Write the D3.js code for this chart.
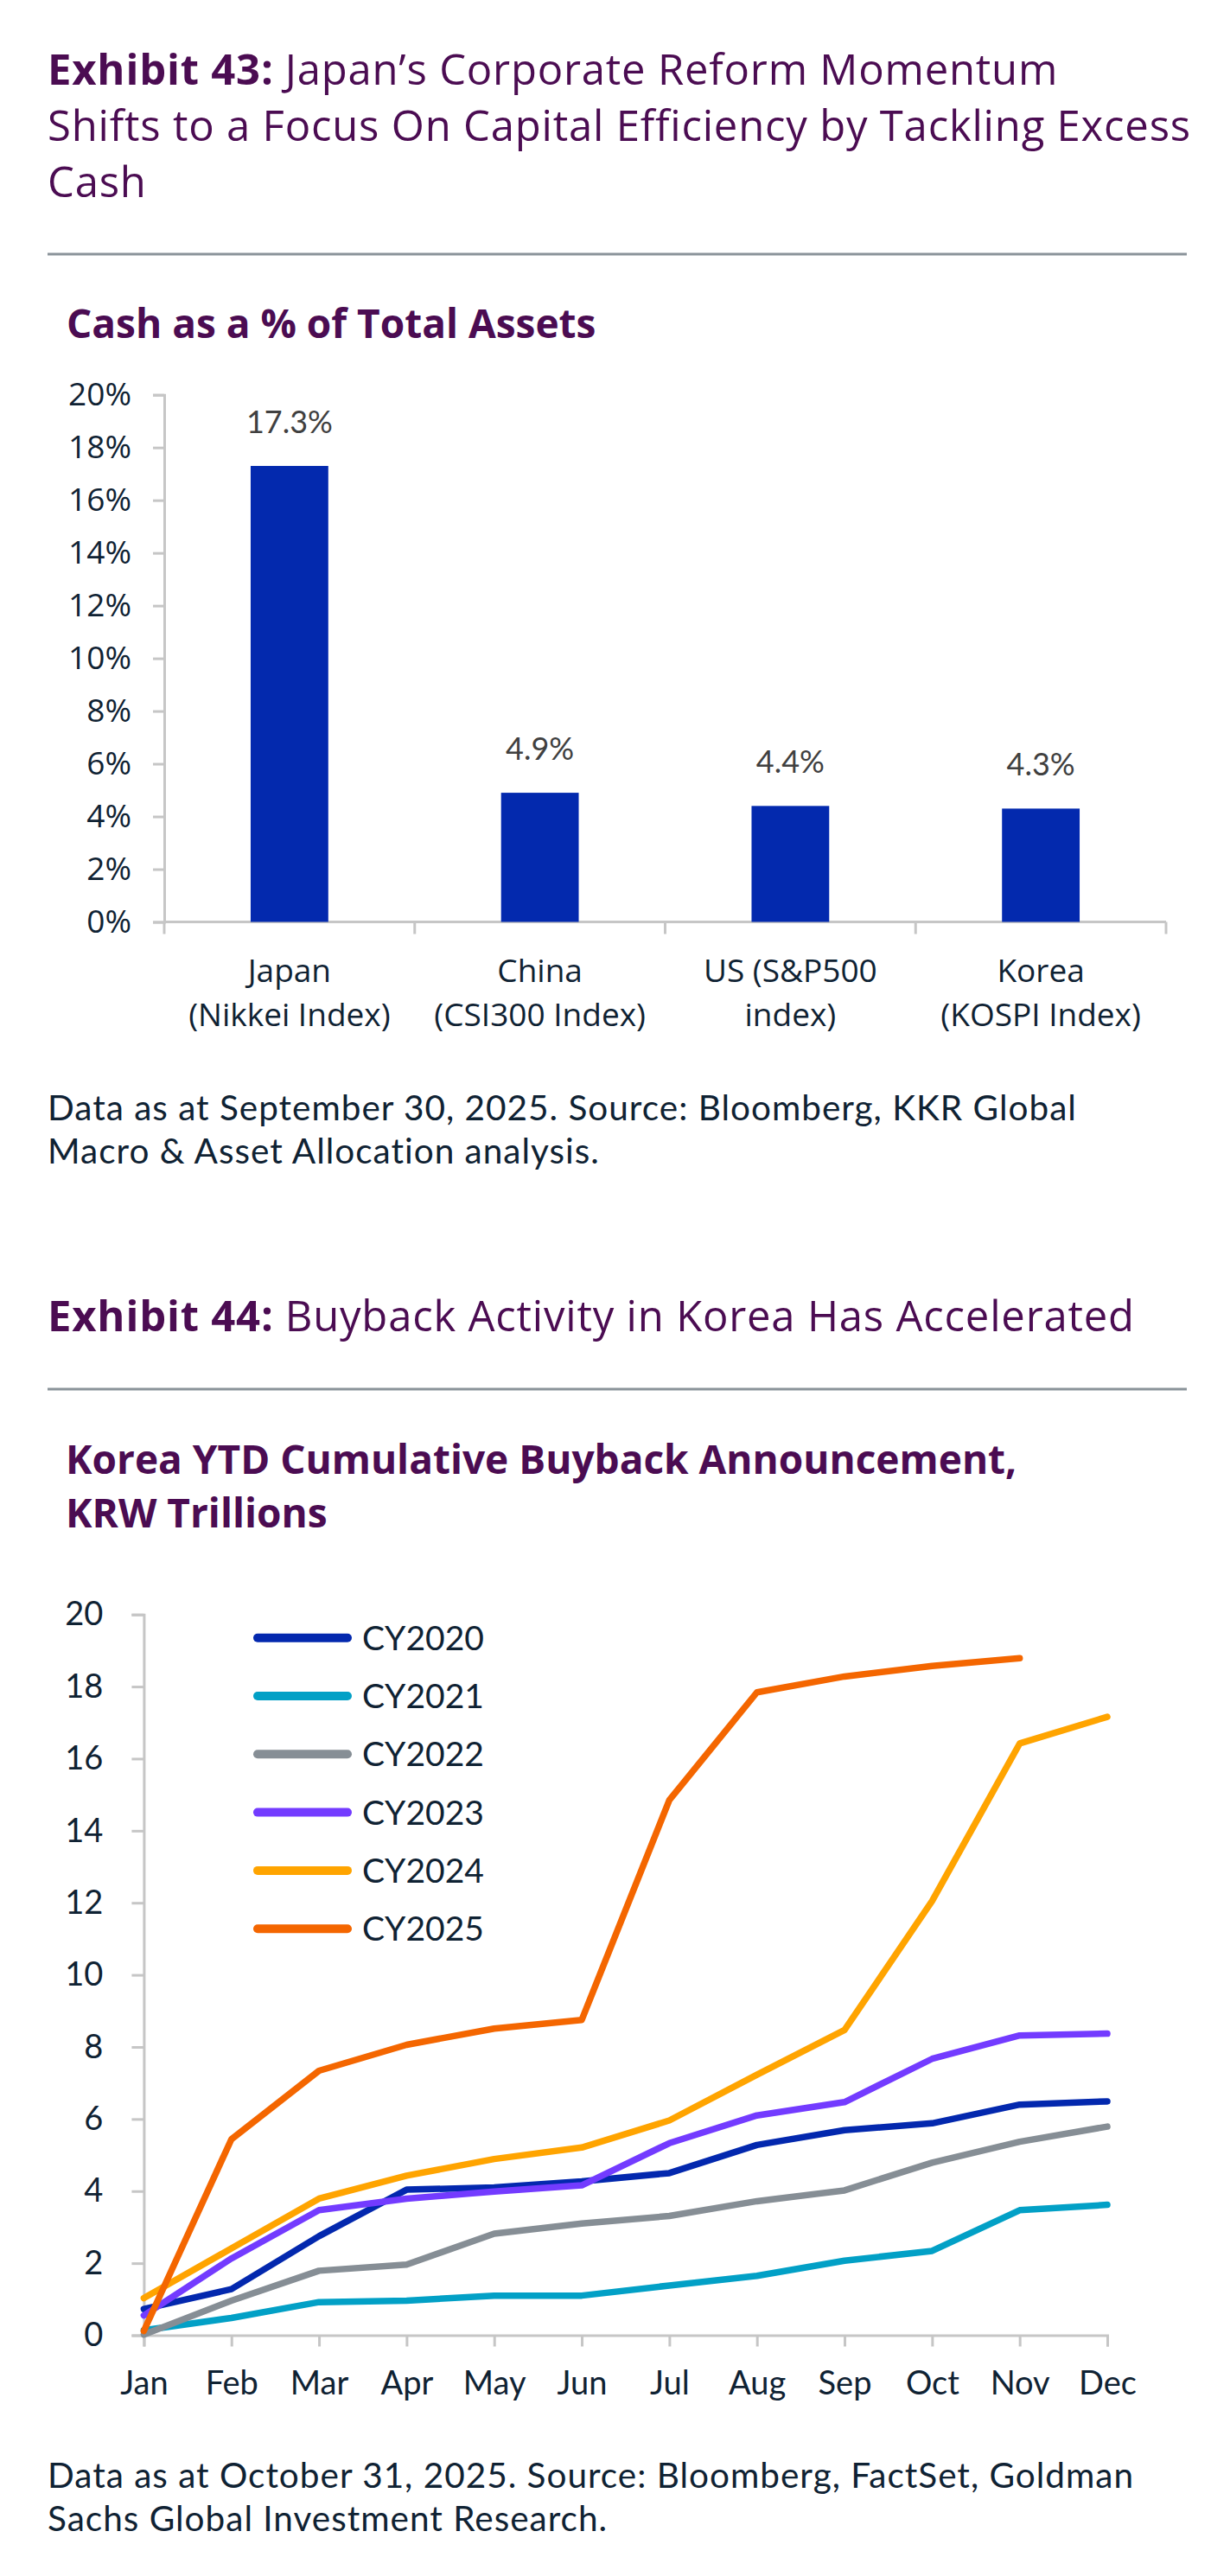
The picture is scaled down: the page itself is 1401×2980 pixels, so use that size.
<!DOCTYPE html>
<html>
<head>
<meta charset="utf-8">
<script src="https://cdn.jsdelivr.net/npm/d3@7"></script>
<style>
  body { margin: 0; background: #ffffff; }
  svg { display: block; font-family: "Open Sans", Lato, sans-serif; }
</style>
</head>
<body>
<svg id="page" width="1401" height="2980"></svg>
<script>
// ---- Exhibit 43 data ----
const barCategories = ["Japan", "China", "US", "Korea"];
const barCategoryLabels = [
    ["Japan", "(Nikkei Index)"],
    ["China", "(CSI300 Index)"],
    ["US (S&P500", "index)"],
    ["Korea", "(KOSPI Index)"]
];
const barValues = [17.3, 4.9, 4.4, 4.3];
const barTicks = [0, 2, 4, 6, 8, 10, 12, 14, 16, 18, 20];

// ---- Exhibit 44 data ----
const months = ["Jan", "Feb", "Mar", "Apr", "May", "Jun", "Jul", "Aug", "Sep", "Oct", "Nov", "Dec"];
const seriesNames = ["CY2020", "CY2021", "CY2022", "CY2023", "CY2024", "CY2025"];
const cy2020 = [0.73, 1.28, 2.75, 4.04, 4.10, 4.27, 4.50, 5.28, 5.69, 5.88, 6.40, 6.49];
const cy2021 = [0.14, 0.48, 0.92, 0.96, 1.10, 1.10, 1.38, 1.65, 2.07, 2.34, 3.47, 3.62];
const cy2022 = [0.02, 0.96, 1.79, 1.96, 2.82, 3.10, 3.31, 3.72, 4.02, 4.79, 5.37, 5.79];
const cy2023 = [0.55, 2.13, 3.47, 3.79, 3.99, 4.16, 5.33, 6.10, 6.47, 7.67, 8.32, 8.37];
const cy2024 = [1.03, 2.41, 3.79, 4.43, 4.89, 5.21, 5.96, 7.23, 8.47, 12.05, 16.42, 17.16];
const cy2025 = [0.12, 5.44, 7.34, 8.06, 8.51, 8.75, 14.85, 17.84, 18.28, 18.57, 18.79];
const lineTicks = [0, 2, 4, 6, 8, 10, 12, 14, 16, 18, 20];

const PURPLE = "#4b0c52";
const INK = "#0f2233";
const AXIS = "#c6c6c6";
const seriesColors = ["#0328ae", "#02a0c6", "#868e95", "#733bff", "#ffa400", "#f46600"];

document.addEventListener('DOMContentLoaded', function() {
    const svg = d3.select("#page");
    renderHeadings(svg);
    renderBarChart(svg);
    renderLineChart(svg);
});

function textLine(svg, str, x, y, size, weight, color) {
    return svg.append("text")
        .attr("x", x)
        .attr("y", y)
        .attr("fill", color)
        .attr("font-weight", weight)
        .style("font-size", size + "px")
        .text(str);
}

// bold "Exhibit NN:" label followed by the regular title text, one <text> per line
function exhibitTitle(svg, label, lines, y0, lineHeight) {
    lines.forEach((line, i) => {
        const y = y0 + i * lineHeight;
        let x = 55;
        if (i === 0) {
            const bold = textLine(svg, label, x, y, 49, 700, PURPLE).style("letter-spacing", "0.8px");
            x += bold.node().getComputedTextLength() + 13;
        }
        textLine(svg, line, x, y, 49, 400, PURPLE).style("letter-spacing", "0.8px");
    });
}

function multiline(svg, lines, x, y0, lineHeight, size, weight, color, anchor) {
    return lines.map((line, i) =>
        textLine(svg, line, x, y0 + i * lineHeight, size, weight, color)
            .attr("text-anchor", anchor || "start"));
}

function footnote(svg, lines, y0) {
    multiline(svg, lines, 55, y0, 49.5, 40.5, 400, INK).forEach(t => {
        t.style("font-family", "Lato, sans-serif").style("letter-spacing", "1px");
    });
}

function renderHeadings(svg) {
    exhibitTitle(svg, "Exhibit 43:",
        ["Japan\u2019s Corporate Reform Momentum",
         "Shifts to a Focus On Capital Efficiency by Tackling Excess",
         "Cash"], 98, 65);
    svg.append("line")
        .attr("x1", 55).attr("x2", 1373)
        .attr("y1", 294).attr("y2", 294)
        .attr("stroke", "#8a9399").attr("stroke-width", 3);
    multiline(svg, ["Cash as a % of Total Assets"], 77, 391, 0, 46, 700, PURPLE);
    footnote(svg, ["Data as at September 30, 2025. Source: Bloomberg, KKR Global",
                   "Macro & Asset Allocation analysis."], 1296);

    exhibitTitle(svg, "Exhibit 44:", ["Buyback Activity in Korea Has Accelerated"], 1540, 65);
    svg.append("line")
        .attr("x1", 55).attr("x2", 1373)
        .attr("y1", 1607).attr("y2", 1607)
        .attr("stroke", "#8a9399").attr("stroke-width", 3);
    multiline(svg, ["Korea YTD Cumulative Buyback Announcement,", "KRW Trillions"],
        76, 1705, 62, 46, 700, PURPLE);
    footnote(svg, ["Data as at October 31, 2025. Source: Bloomberg, FactSet, Goldman",
                   "Sachs Global Investment Research."], 2878);
}

function renderBarChart(svg) {
    const x = d3.scaleBand().domain(barCategories).range([190, 1349]).padding(0);
    const y = d3.scaleLinear().domain([0, 20]).range([1066.5, 456.7]);
    const barWidth = x.bandwidth() * 0.31;

    const yAxis = d3.axisLeft(y)
        .tickValues(barTicks)
        .tickSize(13)
        .tickPadding(25)
        .tickFormat(d => d + "%");

    const gy = svg.append("g")
        .attr("transform", "translate(190,0)")
        .call(yAxis);
    gy.attr("font-family", null).attr("font-size", null);
    gy.selectAll("path, line").attr("stroke", AXIS).attr("stroke-width", 3);
    gy.selectAll("text")
        .attr("fill", INK)
        .style("font-size", "37px");

    // category axis with ticks on band edges
    const edges = barCategories.map(c => x(c)).concat([x.range()[1]]);
    const gx = svg.append("g").attr("class", "x axis");
    gx.append("line")
        .attr("x1", x.range()[0]).attr("x2", x.range()[1])
        .attr("y1", y(0)).attr("y2", y(0))
        .attr("stroke", AXIS).attr("stroke-width", 3);
    gx.selectAll(".edge")
        .data(edges)
        .enter().append("line")
        .attr("class", "edge")
        .attr("x1", d => d).attr("x2", d => d)
        .attr("y1", y(0)).attr("y2", y(0) + 14)
        .attr("stroke", AXIS).attr("stroke-width", 3);

    svg.selectAll(".bar")
        .data(barValues)
        .enter().append("rect")
        .attr("class", "bar")
        .attr("x", (d, i) => x(barCategories[i]) + (x.bandwidth() - barWidth) / 2)
        .attr("width", barWidth)
        .attr("y", d => y(d))
        .attr("height", d => y(0) - y(d))
        .attr("fill", "#0329ae");

    svg.selectAll(".bar-label")
        .data(barValues)
        .enter().append("text")
        .attr("class", "bar-label")
        .attr("x", (d, i) => x(barCategories[i]) + x.bandwidth() / 2)
        .attr("y", d => y(d) - 38)
        .attr("text-anchor", "middle")
        .attr("fill", "#404040")
        .style("font-family", "Lato, sans-serif")
        .style("font-size", "36px")
        .text(d => d.toFixed(1) + "%");

    barCategoryLabels.forEach((lines, i) => {
        const cx = x(barCategories[i]) + x.bandwidth() / 2;
        multiline(svg, lines, cx, 1136, 51, 37, 400, INK, "middle");
    });
}

function renderLineChart(svg) {
    const x = d3.scalePoint().domain(months).range([166.4, 1281]);
    const y = d3.scaleLinear().domain([0, 20]).range([2701.5, 1867.7]);
    const series = [cy2020, cy2021, cy2022, cy2023, cy2024, cy2025];

    const yAxis = d3.axisLeft(y).tickValues(lineTicks).tickSize(14).tickPadding(33);
    const gy = svg.append("g").attr("transform", "translate(166.4,0)").call(yAxis);

    const xAxis = d3.axisBottom(x).tickSize(13).tickPadding(29);
    const gx = svg.append("g").attr("transform", "translate(0," + y(0) + ")").call(xAxis);

    [gy, gx].forEach(g => {
        g.attr("font-family", null).attr("font-size", null);
        g.selectAll("path, line").attr("stroke", AXIS).attr("stroke-width", 3);
        g.selectAll("text")
            .attr("fill", INK)
            .style("font-family", "Lato, sans-serif")
            .style("font-size", "38px");
    });

    const line = d3.line()
        .x((d, i) => x(months[i]))
        .y(d => y(d));

    svg.selectAll(".series")
        .data(series)
        .enter().append("path")
        .attr("class", "series")
        .attr("d", d => line(d))
        .attr("fill", "none")
        .attr("stroke", (d, i) => seriesColors[i])
        .attr("stroke-width", 7.5)
        .attr("stroke-linejoin", "round")
        .attr("stroke-linecap", "round");

    const legend = svg.append("g").attr("class", "legend");
    const rows = legend.selectAll("g")
        .data(seriesNames)
        .enter().append("g")
        .attr("transform", (d, i) => "translate(0," + (1894.7 + i * 67.3) + ")");
    rows.append("line")
        .attr("x1", 298).attr("x2", 402)
        .attr("stroke", (d, i) => seriesColors[i])
        .attr("stroke-width", 10)
        .attr("stroke-linecap", "round");
    rows.append("text")
        .attr("x", 419)
        .attr("dy", "0.36em")
        .attr("fill", INK)
        .style("font-family", "Lato, sans-serif")
        .style("font-size", "39px")
        .text(d => d);
}
</script>
</body>
</html>
